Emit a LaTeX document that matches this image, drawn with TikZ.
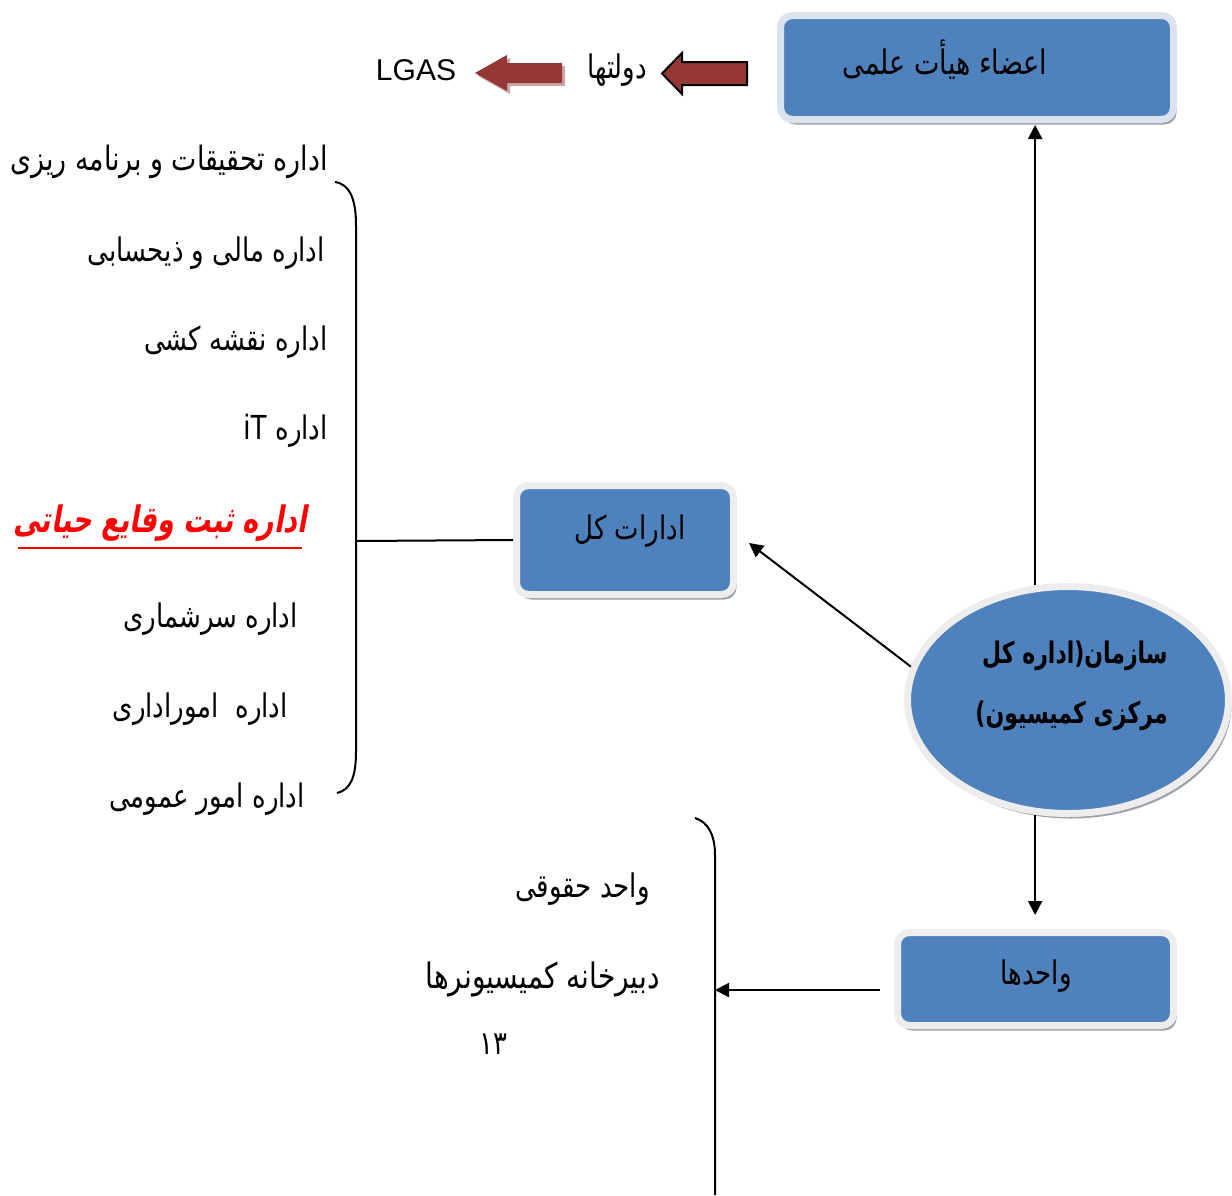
\documentclass[tikz,border=0pt]{standalone}
\usepackage{fontspec}
\usepackage{graphicx}
\usetikzlibrary{shapes.geometric,arrows.meta,shadows,calc}
\TeXXeTstate=1
\newfontfamily\arabicfont[Script=Arabic]{DejaVu Sans}
\newfontfamily\arabicbold[Script=Arabic]{DejaVu Sans Bold}
\newfontfamily\arabicslant[Script=Arabic,FakeSlant=0.25]{DejaVu Sans Bold}
\newfontfamily\latinfont{Liberation Sans}
\newcommand{\artxt}[2][1.25]{\scalebox{1}[#1]{\beginR #2\endR}}
\definecolor{boxblue}{HTML}{4F81BD}
\definecolor{rimblue}{HTML}{DAE3EE}
\definecolor{rimgray}{HTML}{EDEDED}
\definecolor{shadowgray}{HTML}{9DA3AB}
\definecolor{arrowred}{HTML}{953735}
\definecolor{arrowshadow}{HTML}{C7A9A9}
\begin{document}
\begin{tikzpicture}[x=0.5pt,y=-0.5pt,
  fa/.style={font=\arabicfont\fontsize{13}{15}\selectfont},
  listtext/.style={fa, anchor=east, inner sep=0pt},
  rbox/.style={rectangle, rounded corners=6pt, fill=boxblue, draw=rimgray, line width=3.5pt,
     drop shadow={shadow xshift=1.5pt, shadow yshift=-2.5pt, fill=shadowgray, opacity=1},
     inner sep=0pt, fa},
  conn/.style={line width=1pt, draw=black},
  arr/.style={conn, -{Triangle[length=7pt,width=7pt]}},
  bracket/.style={line width=1pt, draw=black},
  boldtext/.style={font=\arabicbold\fontsize{11}{13}\selectfont, anchor=east, inner sep=0pt},
]
\useasboundingbox (0,0) rectangle (1232,1195);

% ---- boxes ----
\node[rbox, draw=rimblue, minimum width=196.5pt, minimum height=52pt] (top) at (977,67.5) {};
\node[fa, font=\arabicfont\fontsize{13.5}{15}\selectfont] (toptext) at (945,60) {\artxt{اعضاء هیأت علمی}};

\node[rbox, minimum width=108.5pt, minimum height=54.5pt] (gen) at (625,540) {};
\node[fa] (gentext) at (630,531) {\artxt{ادارات کل}};

\node[rbox, minimum width=138pt, minimum height=46.5pt] (unit) at (1035.5,979) {};
\node[fa] (unittext) at (1036,976) {\artxt{واحدها}};

\node[ellipse, fill=boxblue, draw=rimgray, line width=3.5pt, inner sep=0pt,
      minimum width=160.5pt, minimum height=113.5pt,
      drop shadow={shadow xshift=1.5pt, shadow yshift=-2.5pt, fill=shadowgray, opacity=1}] (ell) at (1068,700) {};
\node[boldtext] (ell1) at (1168,656) {\artxt[1.35]{سازمان(اداره کل}};
\node[boldtext] (ell2) at (1168,716) {\artxt[1.35]{مرکزی کمیسیون)}};

% ---- block arrows ----
\fill[arrowshadow] (478,76) -- (510,58) -- (510,66) -- (565,66) -- (565,86) -- (510,86) -- (510,94) -- cycle;
\fill[arrowred] (475,73) -- (507,55) -- (507,63) -- (562,63) -- (562,83) -- (507,83) -- (507,91) -- cycle;
\filldraw[fill=arrowred, draw=black, line width=1pt] (662,73.5) -- (682,53) -- (682,62) -- (747,62) -- (747,85) -- (682,85) -- (682,94) -- cycle;
\node[fa] (dowlat) at (617,70) {\artxt{دولتها}};
\node[font=\latinfont\fontsize{15}{17}\selectfont] (lgas) at (416,70) {LGAS};

% ---- connectors ----
\draw[arr, shorten >=1pt] (ell.106) -- (ell.106 |- top.south);
\draw[arr] (ell.-106) -- ($(ell.-106 |- unit.north)+(0,-14)$);
\draw[arr] (ell.168) -- ($(gen.east)+(12,3)$);

% ---- bracket 1 ----
\coordinate (b1top) at (335,182);
\coordinate (b1bot) at (337,793);
\coordinate (b1mid) at (356,541);
\draw[bracket] (b1top) .. controls (350,184) and (356,200) .. (356,225) -- (356,752) .. controls (356,778) and (350,790) .. (b1bot);
\draw[conn] (gen.west) -- (b1mid);

\node[listtext, font=\arabicfont\fontsize{13.4}{15}\selectfont] (l1) at (328,162) {\artxt{اداره تحقیقات و برنامه ریزی}};
\node[listtext] (l2) at (325,253) {\artxt{اداره مالی و ذیحسابی}};
\node[listtext] (l3) at (328,342) {\artxt{اداره نقشه کشی}};
\node[listtext] (l4) at (328,431) {\artxt{اداره \beginL{\latinfont\fontsize{14}{15}\selectfont iT}\endL}};
\node[anchor=east, inner sep=0pt, text=red, font=\arabicslant\fontsize{13.5}{15}\selectfont] (l5) at (307,523) {\artxt[1.35]{اداره ثبت وقایع حیاتی}};
\draw[red, line width=1.2pt] (18,548) -- (302,548);
\node[listtext] (l6) at (298,619) {\artxt{اداره سرشماری}};
\node[listtext] (l7) at (288,709) {\artxt{اداره\ \ اموراداری}};
\node[listtext] (l8) at (305,799) {\artxt{اداره امور عمومی}};

% ---- bracket 2 ----
\coordinate (b2top) at (695,818);
\coordinate (b2mid) at (715,990);
\coordinate (b2bot) at (715,1195);
\draw[bracket] (b2top) .. controls (708,822) and (715,835) .. (715,855) -- (b2bot);
\draw[arr] ($(unit.west)+(-14,11)$) -- (b2mid);

\node[listtext] (w1) at (650,889) {\artxt{واحد حقوقی}};
\node[listtext, font=\arabicfont\fontsize{14}{15}\selectfont] (w2) at (660,979) {\artxt{دبیرخانه کمیسیونرها}};
\node[fa] (num) at (493,1044) {\artxt{۱۳}};
\end{tikzpicture}
\end{document}
